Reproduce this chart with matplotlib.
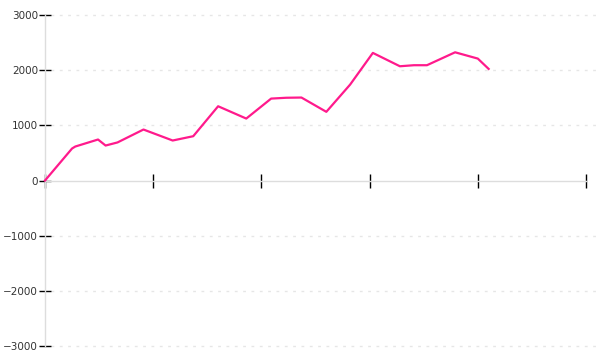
import matplotlib
matplotlib.use("Agg")
import matplotlib.pyplot as plt

# data (x in tick units, y values)
x_vals = [0.0, 0.25, 0.28, 0.49, 0.56, 0.67, 0.91, 1.18, 1.37, 1.60, 1.86,
          2.09, 2.23, 2.37, 2.60, 2.82, 3.03, 3.28, 3.41, 3.53, 3.79, 4.00, 4.10]
y_vals = [0, 580, 616, 743, 634, 690, 924, 725, 803, 1346, 1123,
          1485, 1500, 1504, 1245, 1739, 2313, 2071, 2090, 2090, 2324, 2210, 2023]
x_ticks = [0, 1, 2, 3, 4, 5]
y_ticks = [-3000, -2000, -1000, 0, 1000, 2000, 3000]
y_tick_labels = ["\u22123000", "\u22122000", "\u22121000", "0", "1000", "2000", "3000"]

fig = plt.figure(figsize=(6, 3.6), dpi=100)
ax = fig.add_axes([0.075, 0.0389, 0.9017, 0.9194])

ax.set_xlim(0, 5)
ax.set_ylim(-3000, 3000)

for yv in y_ticks:
    if yv != 0:
        ax.axhline(yv, xmin=0.012, xmax=1.03, color="#e6e6e6", lw=1,
                   linestyle=(0, (2, 4)), zorder=0, clip_on=False)

ax.plot(x_vals, y_vals, color="#ff1a8c", lw=1.6, zorder=3, clip_on=False)

for s in ["top", "right"]:
    ax.spines[s].set_visible(False)
ax.spines["left"].set_color("#dddddd")
ax.spines["left"].set_linewidth(1)
ax.spines["bottom"].set_position(("data", 0))
ax.spines["bottom"].set_color("#dddddd")
ax.spines["bottom"].set_linewidth(1)

ax.set_xticks(x_ticks)
ax.set_xticklabels([])
ax.tick_params(axis="x", direction="inout", length=10, width=1, color="black")
ax.set_yticks(y_ticks)
ax.set_yticklabels(y_tick_labels)
ax.tick_params(axis="y", direction="inout", length=8, width=1, color="black",
               labelsize=7.5, labelcolor="#333333", pad=1)

fig.savefig("out.png", dpi=100)
